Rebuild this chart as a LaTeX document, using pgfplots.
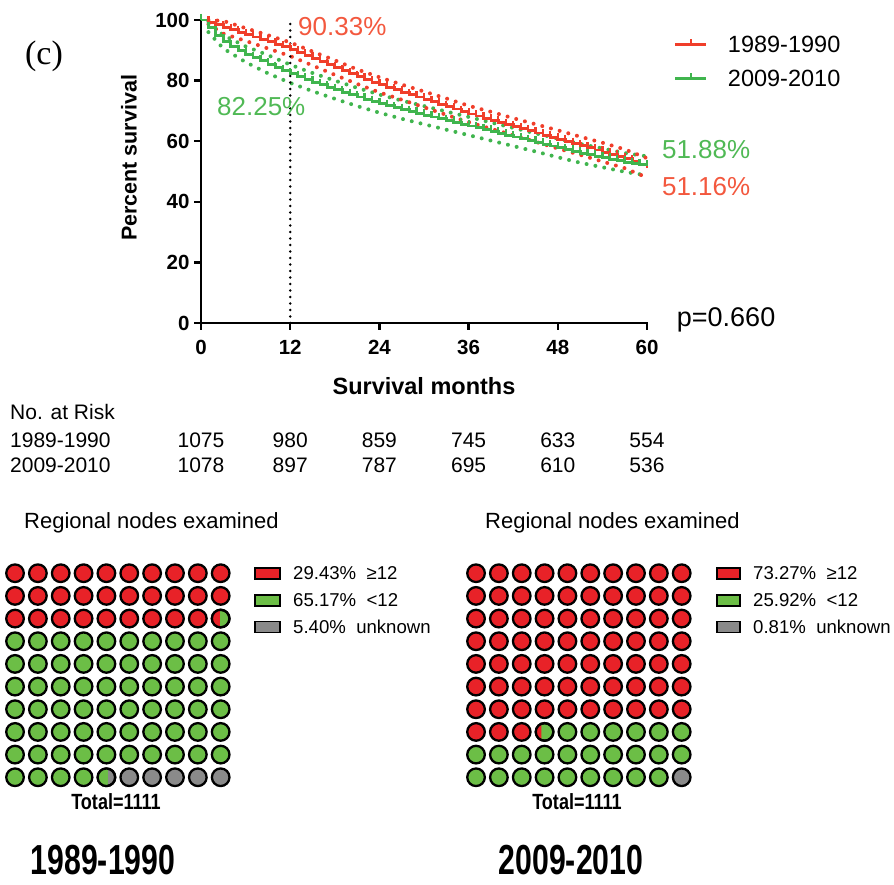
\documentclass[border=0pt]{standalone}
\usepackage{fontspec}
\setmainfont{Liberation Sans}
\newfontfamily\serifc{Liberation Serif}
\newfontfamily\condb{Liberation Sans}[FakeStretch=0.72]
\newfontfamily\condt{Liberation Sans}[FakeStretch=0.82]
\usepackage{pgfplots}
\pgfplotsset{compat=1.18}
\usepackage{pgfplotstable}
\usetikzlibrary{plotmarks}

\definecolor{kmred}{RGB}{240,62,42}
\definecolor{kmgreen}{RGB}{64,181,78}
\definecolor{txtred}{RGB}{243,88,62}
\definecolor{txtgreen}{RGB}{80,185,85}
\definecolor{wred}{RGB}{232,34,40}
\definecolor{wgreen}{RGB}{108,190,70}
\definecolor{wgrey}{RGB}{138,138,138}

% left-hand circular segments (partial waffle circles)
\pgfdeclareplotmark{segA}{\pgfpathmoveto{\pgfpointpolar{96}{\pgfplotmarksize}}\pgfpatharc{96}{264}{\pgfplotmarksize}\pgfpathclose\pgfusepathqfill}
\pgfdeclareplotmark{segB}{\pgfpathmoveto{\pgfpointpolar{81}{\pgfplotmarksize}}\pgfpatharc{81}{279}{\pgfplotmarksize}\pgfpathclose\pgfusepathqfill}
\pgfdeclareplotmark{segC}{\pgfpathmoveto{\pgfpointpolar{112}{\pgfplotmarksize}}\pgfpatharc{112}{248}{\pgfplotmarksize}\pgfpathclose\pgfusepathqfill}

\pgfplotstableread{
t s
0 100
1 99.2
2 98.4
3 97.6
4 96.8
5 96.0
6 95.2
7 94.4
8 93.6
9 92.8
10 92.0
11 91.2
12 90.33
13 89.3
14 88.3
15 87.3
16 86.3
17 85.3
18 84.3
19 83.3
20 82.3
21 81.3
22 80.4
23 79.5
24 78.6
25 77.8
26 77.0
27 76.2
28 75.4
29 74.6
30 73.8
31 73.0
32 72.2
33 71.4
34 70.6
35 69.8
36 69.0
37 68.3
38 67.6
39 66.9
40 66.2
41 65.5
42 64.8
43 64.1
44 63.4
45 62.7
46 62.0
47 61.3
48 60.6
49 59.9
50 59.2
51 58.5
52 57.8
53 57.1
54 56.4
55 55.7
56 55.0
57 54.2
58 53.4
59 52.3
60 51.16
}\redkm

\pgfplotstableread{
t s
0 100
1 97.5
2 95.0
3 92.8
4 91.2
5 89.9
6 88.7
7 87.6
8 86.5
9 85.4
10 84.3
11 83.3
12 82.25
13 81.3
14 80.4
15 79.5
16 78.6
17 77.8
18 77.0
19 76.2
20 75.4
21 74.6
22 73.8
23 73.1
24 72.4
25 71.7
26 71.0
27 70.4
28 69.8
29 69.2
30 68.6
31 68.0
32 67.4
33 66.8
34 66.2
35 65.6
36 65.0
37 64.4
38 63.8
39 63.2
40 62.6
41 62.0
42 61.4
43 60.8
44 60.2
45 59.6
46 59.0
47 58.4
48 57.8
49 57.2
50 56.6
51 56.0
52 55.5
53 55.0
54 54.5
55 54.0
56 53.5
57 53.0
58 52.6
59 52.2
60 51.88
}\greenkm

\pgfplotstableread{
t up lo
1 100 98.6
3 99.7 95.5
6 97.3 93.1
9 95.0 90.6
12 92.6 88.1
15 89.6 85.0
18 86.7 81.9
21 83.7 78.9
24 81.1 76.1
27 78.7 73.7
30 76.4 71.2
33 74.1 68.7
36 71.7 66.3
39 69.7 64.1
42 67.6 62.0
45 65.6 59.8
48 63.6 57.6
51 61.5 55.5
54 59.5 53.3
57 57.3 51.1
60 54.4 48.0
}\redci

\pgfplotstableread{
t up lo
1 99.5 96.0
3 95.0 90.6
6 91.3 86.1
9 88.4 82.4
12 85.25 79.25
15 82.5 76.5
18 80.0 74.0
21 77.6 71.6
24 75.4 69.4
27 73.4 67.4
30 71.6 65.6
33 69.8 63.8
36 68.0 62.0
39 66.2 60.2
42 64.4 58.4
45 62.6 56.6
48 60.9 54.7
51 59.1 52.9
54 57.6 51.4
57 56.1 49.9
60 55.0 48.7
}\greenci

\begin{document}
\begin{tikzpicture}
\path[use as bounding box] (0pt,0pt) rectangle (894pt,884pt);

% ---------------- Kaplan-Meier panel ----------------
\begin{axis}[
  at={(201pt,561pt)}, anchor=south west,
  scale only axis, width=446pt, height=303pt,
  xmin=0, xmax=60, ymin=0, ymax=100,
  axis lines=left,
  axis line style={-, line width=2.6pt, line cap=rect},
  xtick={0,12,24,36,48,60}, ytick={0,20,40,60,80,100},
  tick align=outside, major tick length=7pt,
  tick style={line width=2.4pt, black},
  ticklabel style={font=\bfseries\fontsize{20.5}{22}\selectfont},
  xticklabel style={yshift=-7pt},
  yticklabel style={xshift=-1pt},
  /pgf/number format/assume math mode=true,
  xlabel={Survival months},
  ylabel={Percent survival},
  x label style={font=\bfseries\fontsize{23.5}{26}\selectfont, at={(axis description cs:0.5,0)}, anchor=center, yshift=-63pt},
  y label style={font=\bfseries\fontsize{21.5}{24}\selectfont, at={(axis description cs:0,0.545)}, anchor=center, yshift=72pt},
  clip=false,
  legend style={at={(rel axis cs:1.06,0.948)}, anchor=north west, draw=none, fill=none,
    font=\fontsize{23.5}{26}\selectfont, row sep=16pt, inner sep=0pt,
    nodes={inner xsep=0pt, inner ysep=0pt}},
  /tikz/every odd column/.style={column sep=20pt},
  legend cell align=left,
  legend image code/.code={
    \draw[#1, mark=none, line width=3pt] (0pt,0pt) -- (31pt,0pt);
    \draw[#1, mark=none, line width=2.4pt] (15.5pt,0pt) -- (15.5pt,6pt);}
]
% confidence bands (dotted)
\addplot[forget plot, kmgreen, line width=4pt, line cap=round, dash pattern=on 0pt off 9pt] table[x=t,y=up] {\greenci};
\addplot[forget plot, kmgreen, line width=4pt, line cap=round, dash pattern=on 0pt off 9pt] table[x=t,y=lo] {\greenci};
\addplot[forget plot, kmred, line width=4pt, line cap=round, dash pattern=on 0pt off 9pt] table[x=t,y=up] {\redci};
\addplot[forget plot, kmred, line width=4pt, line cap=round, dash pattern=on 0pt off 9pt] table[x=t,y=lo] {\redci};
% vertical reference line at 12 months
\addplot[forget plot, black, line width=2.8pt, line cap=round, dash pattern=on 0pt off 6.5pt] coordinates {(12,0) (12,100)};
% survival curves
\addplot[kmred, line width=2.8pt, const plot, mark=|, mark size=3pt, mark options={line width=2.2pt, yshift=3pt}] table[x=t,y=s] {\redkm};
\addlegendentry{1989-1990}
\addplot[kmgreen, line width=2.8pt, const plot, mark=|, mark size=3pt, mark options={line width=2.2pt, yshift=3pt}] table[x=t,y=s] {\greenkm};
\addlegendentry{2009-2010}

\node[txtred, anchor=west, inner sep=0pt, font=\fontsize{26}{28}\selectfont] at (axis cs:13.05,98) {90.33\%};
\node[txtgreen, anchor=west, inner sep=0pt, font=\fontsize{26}{28}\selectfont] at (axis cs:2.15,71.3) {82.25\%};
\node[txtgreen, anchor=west, inner sep=0pt, font=\fontsize{26}{28}\selectfont] at (axis cs:62,57.1) {51.88\%};
\node[txtred, anchor=west, inner sep=0pt, font=\fontsize{26}{28}\selectfont] at (axis cs:62,44.9) {51.16\%};
\node[black, anchor=base west, inner sep=0pt, font=\fontsize{27}{29}\selectfont] at (axis cs:64,-1.3) {p=0.660};
\end{axis}

\node[font=\serifc\fontsize{34}{36}\selectfont, inner sep=0pt] at (44pt,828pt) {(c)};

% ---------------- Number at risk ----------------
\begin{scope}[every node/.style={inner sep=0pt, font=\fontsize{21}{23}\selectfont}]
\node[anchor=base west] at (10pt,464.5pt) {No. at Risk};
\node[anchor=base west] at (10pt,436.5pt) {1989-1990};
\node[anchor=base west] at (10pt,411.5pt) {2009-2010};
\node[anchor=base] at (201pt,436.5pt) {1075};
\node[anchor=base] at (290.2pt,436.5pt) {980};
\node[anchor=base] at (379.4pt,436.5pt) {859};
\node[anchor=base] at (468.6pt,436.5pt) {745};
\node[anchor=base] at (557.8pt,436.5pt) {633};
\node[anchor=base] at (647pt,436.5pt) {554};
\node[anchor=base] at (201pt,411.5pt) {1078};
\node[anchor=base] at (290.2pt,411.5pt) {897};
\node[anchor=base] at (379.4pt,411.5pt) {787};
\node[anchor=base] at (468.6pt,411.5pt) {695};
\node[anchor=base] at (557.8pt,411.5pt) {610};
\node[anchor=base] at (647pt,411.5pt) {536};
\end{scope}

% ---------------- Waffle 1989-1990 ----------------
\begin{axis}[
  at={(3.6pt,95.4pt)}, anchor=south west,
  scale only axis, width=228.5pt, height=226.7pt,
  xmin=0.5, xmax=10.5, ymin=0.5, ymax=10.5,
  hide axis, clip=false, mark size=8.8pt
]
\addplot[only marks, mark=*, mark options={fill=wred, draw=black, line width=2.3pt}] coordinates {
(1,10) (2,10) (3,10) (4,10) (5,10) (6,10) (7,10) (8,10) (9,10) (10,10)
(1,9) (2,9) (3,9) (4,9) (5,9) (6,9) (7,9) (8,9) (9,9) (10,9)
(1,8) (2,8) (3,8) (4,8) (5,8) (6,8) (7,8) (8,8) (9,8)};
\addplot[only marks, mark=*, mark options={fill=wgreen, draw=black, line width=2.3pt}] coordinates {
(10,8)
(1,7) (2,7) (3,7) (4,7) (5,7) (6,7) (7,7) (8,7) (9,7) (10,7)
(1,6) (2,6) (3,6) (4,6) (5,6) (6,6) (7,6) (8,6) (9,6) (10,6)
(1,5) (2,5) (3,5) (4,5) (5,5) (6,5) (7,5) (8,5) (9,5) (10,5)
(1,4) (2,4) (3,4) (4,4) (5,4) (6,4) (7,4) (8,4) (9,4) (10,4)
(1,3) (2,3) (3,3) (4,3) (5,3) (6,3) (7,3) (8,3) (9,3) (10,3)
(1,2) (2,2) (3,2) (4,2) (5,2) (6,2) (7,2) (8,2) (9,2) (10,2)
(1,1) (2,1) (3,1) (4,1)};
\addplot[only marks, mark=*, mark options={fill=wgrey, draw=black, line width=2.3pt}] coordinates {
(5,1) (6,1) (7,1) (8,1) (9,1) (10,1)};
\addplot[only marks, mark=segA, mark options={fill=wred, draw=none}] coordinates {(10,8)};
\addplot[only marks, mark=segB, mark options={fill=wgreen, draw=none}] coordinates {(5,1)};
\addplot[only marks, mark=o, mark options={draw=black, line width=2.3pt}] coordinates {(10,8) (5,1)};
\end{axis}

% ---------------- Waffle 2009-2010 ----------------
\begin{axis}[
  at={(464.6pt,95.4pt)}, anchor=south west,
  scale only axis, width=228.5pt, height=226.7pt,
  xmin=0.5, xmax=10.5, ymin=0.5, ymax=10.5,
  hide axis, clip=false, mark size=8.8pt
]
\addplot[only marks, mark=*, mark options={fill=wred, draw=black, line width=2.3pt}] coordinates {
(1,10) (2,10) (3,10) (4,10) (5,10) (6,10) (7,10) (8,10) (9,10) (10,10)
(1,9) (2,9) (3,9) (4,9) (5,9) (6,9) (7,9) (8,9) (9,9) (10,9)
(1,8) (2,8) (3,8) (4,8) (5,8) (6,8) (7,8) (8,8) (9,8) (10,8)
(1,7) (2,7) (3,7) (4,7) (5,7) (6,7) (7,7) (8,7) (9,7) (10,7)
(1,6) (2,6) (3,6) (4,6) (5,6) (6,6) (7,6) (8,6) (9,6) (10,6)
(1,5) (2,5) (3,5) (4,5) (5,5) (6,5) (7,5) (8,5) (9,5) (10,5)
(1,4) (2,4) (3,4) (4,4) (5,4) (6,4) (7,4) (8,4) (9,4) (10,4)
(1,3) (2,3) (3,3)};
\addplot[only marks, mark=*, mark options={fill=wgreen, draw=black, line width=2.3pt}] coordinates {
(4,3) (5,3) (6,3) (7,3) (8,3) (9,3) (10,3)
(1,2) (2,2) (3,2) (4,2) (5,2) (6,2) (7,2) (8,2) (9,2) (10,2)
(1,1) (2,1) (3,1) (4,1) (5,1) (6,1) (7,1) (8,1) (9,1)};
\addplot[only marks, mark=*, mark options={fill=wgrey, draw=black, line width=2.3pt}] coordinates {(10,1)};
\addplot[only marks, mark=segC, mark options={fill=wred, draw=none}] coordinates {(4,3)};
\addplot[only marks, mark=o, mark options={draw=black, line width=2.3pt}] coordinates {(4,3)};
\end{axis}

% ---------------- Waffle captions and keys ----------------
\begin{scope}[every node/.style={inner sep=0pt}]
\node[anchor=west, font=\fontsize{22}{24}\selectfont] at (24pt,361pt) {Regional nodes examined};
\node[anchor=west, font=\fontsize{22}{24}\selectfont] at (485pt,361pt) {Regional nodes examined};

\draw[fill=wred, line width=1.6pt] (255pt,305pt) rectangle (280pt,316pt);
\draw[fill=wgreen, line width=1.6pt] (255pt,278pt) rectangle (280pt,289pt);
\draw[fill=wgrey, line width=1.6pt] (255pt,251.5pt) rectangle (280pt,262.5pt);
\node[anchor=west, font=\fontsize{18.6}{20}\selectfont] at (293pt,310.5pt) {29.43\%\ \ ≥12};
\node[anchor=west, font=\fontsize{18.6}{20}\selectfont] at (293pt,283.5pt) {65.17\%\ \ <12};
\node[anchor=west, font=\fontsize{18.6}{20}\selectfont] at (293pt,257pt) {5.40\%\ \ unknown};

\draw[fill=wred, line width=1.6pt] (717pt,305pt) rectangle (740pt,316pt);
\draw[fill=wgreen, line width=1.6pt] (717pt,278pt) rectangle (740pt,289pt);
\draw[fill=wgrey, line width=1.6pt] (717pt,251.5pt) rectangle (740pt,262.5pt);
\node[anchor=west, font=\fontsize{18.6}{20}\selectfont] at (753pt,310.5pt) {73.27\%\ \ ≥12};
\node[anchor=west, font=\fontsize{18.6}{20}\selectfont] at (753pt,283.5pt) {25.92\%\ \ <12};
\node[anchor=west, font=\fontsize{18.6}{20}\selectfont] at (753pt,257pt) {0.81\%\ \ unknown};

\node[font=\condt\bfseries\fontsize{22}{24}\selectfont] at (116pt,82pt) {Total=1111};
\node[font=\condt\bfseries\fontsize{22}{24}\selectfont] at (577pt,82pt) {Total=1111};

\node[font=\condb\bfseries\fontsize{42}{44}\selectfont] at (103pt,24pt) {1989-1990};
\node[font=\condb\bfseries\fontsize{42}{44}\selectfont] at (571pt,24pt) {2009-2010};
\end{scope}
\end{tikzpicture}
\end{document}
